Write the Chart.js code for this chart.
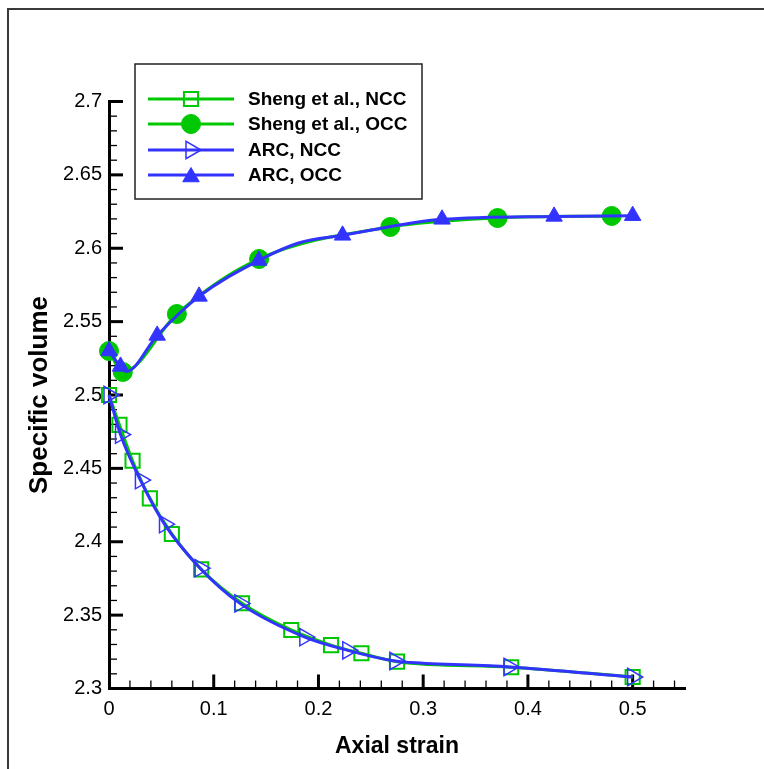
<!DOCTYPE html>
<html><head><meta charset="utf-8">
<script src="https://cdn.jsdelivr.net/npm/chart.js@4/dist/chart.umd.min.js"></script>
<style>
html,body{margin:0;padding:0;background:#fff;}
#wrap{position:relative;width:764px;height:769px;overflow:hidden;}
#frame{position:absolute;left:7px;top:8px;width:800px;height:800px;border-top:2px solid #3a3a3a;border-left:2px solid #3a3a3a;}
canvas{position:absolute;left:0;top:0;}
</style></head><body>
<div id="wrap"><div id="frame"></div><canvas id="c" width="764" height="769"></canvas></div>
<script>
// ---- data ----
const shengNccStrain = [0, 0.010, 0.0225, 0.039, 0.060, 0.088, 0.127, 0.174, 0.212, 0.241, 0.275, 0.384, 0.500];
const shengNccVolume = [2.500, 2.4796, 2.4552, 2.4296, 2.4053, 2.3812, 2.3581, 2.3399, 2.3296, 2.324, 2.3183, 2.3145, 2.3078];

const shengOccStrain = [0, 0.0132, 0.0648, 0.1433, 0.2686, 0.371, 0.480];
const shengOccVolume = [2.530, 2.5157, 2.5552, 2.5927, 2.6145, 2.6206, 2.622];

const arcNccStrain = [0, 0.011, 0.030, 0.053, 0.087, 0.125, 0.187, 0.228, 0.273, 0.288, 0.382, 0.500];
const arcNccVolume = [2.500, 2.473, 2.442, 2.412, 2.382, 2.358, 2.335, 2.326, 2.3187, 2.3177, 2.3147, 2.3078];
const arcNccMarked = [1, 1, 1, 1, 1, 1, 1, 1, 1, 0, 1, 1];

const arcOccStrain = [0, 0.011, 0.0165, 0.046, 0.086, 0.143, 0.181, 0.223, 0.318, 0.425, 0.500];
const arcOccVolume = [2.530, 2.5195, 2.516, 2.5406, 2.5672, 2.5917, 2.6036, 2.6088, 2.6197, 2.6217, 2.6222];
const arcOccMarked = [1, 1, 0, 1, 1, 1, 0, 1, 1, 1, 1];

const xTickValues = [0, 0.1, 0.2, 0.3, 0.4, 0.5];
const yTickValues = [2.3, 2.35, 2.4, 2.45, 2.5, 2.55, 2.6, 2.65, 2.7];
const legendLabels = ['Sheng et al., NCC', 'Sheng et al., OCC', 'ARC, NCC', 'ARC, OCC'];

const X_MIN = 0, X_MAX = 0.55, X_MINOR = 0.02;
const Y_MIN = 2.3, Y_MAX = 2.7, Y_MINOR = 0.01;

const GREEN = '#00c800';
const BLUE = '#3333ff';
const FONT = "'Liberation Sans', Arial, sans-serif";

const pts = (xs, ys) => xs.map((x, i) => ({x: x, y: ys[i]}));

// ---- marker drawing (legend) ----
function drawMarker(ctx, style, x, y, r, rot, fill, stroke, lw) {
  ctx.save();
  ctx.translate(x, y);
  ctx.rotate(rot * Math.PI / 180);
  ctx.beginPath();
  if (style === 'circle') {
    ctx.arc(0, 0, r, 0, Math.PI * 2);
  } else if (style === 'rect') {
    const s = r * Math.SQRT1_2;
    ctx.rect(-s, -s, 2 * s, 2 * s);
  } else if (style === 'triangle') {
    for (let k = 0; k < 3; k++) {
      const a = -Math.PI / 2 + k * 2 * Math.PI / 3;
      const px = Math.cos(a) * r, py = Math.sin(a) * r;
      if (k === 0) ctx.moveTo(px, py); else ctx.lineTo(px, py);
    }
    ctx.closePath();
  }
  if (fill) { ctx.fillStyle = fill; ctx.fill(); }
  if (stroke && lw) { ctx.strokeStyle = stroke; ctx.lineWidth = lw; ctx.stroke(); }
  ctx.restore();
}

const legendStyles = [
  {color: GREEN, style: 'rect', r: 10, rot: 0, fill: null, lw: 2},
  {color: GREEN, style: 'circle', r: 9.5, rot: 0, fill: GREEN, lw: 1},
  {color: BLUE, style: 'triangle', r: 10, rot: 90, fill: null, lw: 1.5},
  {color: BLUE, style: 'triangle', r: 9.5, rot: 0, fill: BLUE, lw: 1}
];

const legendPlugin = {
  id: 'boxLegend',
  afterDraw(chart) {
    const ctx = chart.ctx;
    ctx.save();
    ctx.fillStyle = '#fff';
    ctx.fillRect(135, 64, 287, 135);
    ctx.strokeStyle = '#222';
    ctx.lineWidth = 1.5;
    ctx.strokeRect(135, 64, 287, 135);
    const rows = [99, 124, 150, 175];
    legendLabels.forEach((lab, i) => {
      const st = legendStyles[i];
      const yy = rows[i];
      ctx.strokeStyle = st.color;
      ctx.lineWidth = 3;
      ctx.beginPath();
      ctx.moveTo(148, yy);
      ctx.lineTo(234, yy);
      ctx.stroke();
      drawMarker(ctx, st.style, 191, yy + (st.style === 'triangle' && st.rot === 0 ? 2 : 0), st.r, st.rot, st.fill, st.color, st.lw);
      ctx.fillStyle = '#000';
      ctx.font = 'bold 19px ' + FONT;
      ctx.textBaseline = 'middle';
      ctx.textAlign = 'left';
      ctx.fillText(lab, 248, yy + 1);
    });
    ctx.restore();
  }
};

const tickPlugin = {
  id: 'inTicks',
  beforeDatasetsDraw(chart) {
    const ctx = chart.ctx;
    const xs = chart.scales.x, ys = chart.scales.y;
    const ca = chart.chartArea;
    ctx.save();
    ctx.strokeStyle = '#000';
    const nx = Math.floor((X_MAX - X_MIN) / X_MINOR + 1e-6);
    for (let i = 1; i <= nx; i++) {
      const v = X_MIN + i * X_MINOR;
      const p = xs.getPixelForValue(v);
      const major = i % 5 === 0;
      ctx.lineWidth = major ? 3 : 1.3;
      ctx.beginPath();
      ctx.moveTo(p, ca.bottom);
      ctx.lineTo(p, ca.bottom - (major ? 14 : 8));
      ctx.stroke();
    }
    const ny = Math.floor((Y_MAX - Y_MIN) / Y_MINOR + 1e-6);
    for (let i = 1; i <= ny; i++) {
      const v = Y_MIN + i * Y_MINOR;
      const p = ys.getPixelForValue(v);
      const major = i % 5 === 0;
      ctx.lineWidth = major ? 3 : 1.3;
      ctx.beginPath();
      ctx.moveTo(ca.left, p);
      ctx.lineTo(ca.left + (major ? 14 : 8), p);
      ctx.stroke();
    }
    ctx.restore();
  }
};

const radiusFrom = (marks, r) => (c) => (marks[c.dataIndex] ? r : 0);

new Chart(document.getElementById('c'), {
  type: 'line',
  data: {
    datasets: [
      {
        label: 'ARC, OCC',
        data: pts(arcOccStrain, arcOccVolume),
        borderColor: BLUE, borderWidth: 3,
        cubicInterpolationMode: 'monotone',
        pointStyle: 'triangle',
        pointRadius: radiusFrom(arcOccMarked, 9.5),
        pointBackgroundColor: BLUE, pointBorderColor: BLUE, pointBorderWidth: 1,
        clip: false
      },
      {
        label: 'ARC, NCC',
        data: pts(arcNccStrain, arcNccVolume),
        borderColor: BLUE, borderWidth: 3,
        cubicInterpolationMode: 'monotone',
        pointStyle: 'triangle', pointRotation: 90,
        pointRadius: radiusFrom(arcNccMarked, 10),
        pointBackgroundColor: 'rgba(0,0,0,0)', pointBorderColor: BLUE, pointBorderWidth: 1.5,
        clip: false
      },
      {
        label: 'Sheng et al., OCC',
        data: pts(shengOccStrain, shengOccVolume),
        borderColor: GREEN, borderWidth: 3,
        cubicInterpolationMode: 'monotone',
        pointStyle: 'circle', pointRadius: 9.5,
        pointBackgroundColor: GREEN, pointBorderColor: GREEN, pointBorderWidth: 1,
        clip: false
      },
      {
        label: 'Sheng et al., NCC',
        data: pts(shengNccStrain, shengNccVolume),
        borderColor: GREEN, borderWidth: 3,
        cubicInterpolationMode: 'monotone',
        pointStyle: 'rect', pointRadius: 10,
        pointBackgroundColor: 'rgba(0,0,0,0)', pointBorderColor: GREEN, pointBorderWidth: 2,
        clip: false
      }
    ]
  },
  options: {
    responsive: false,
    animation: false,
    events: [],
    devicePixelRatio: 1,
    layout: {padding: {left: 0, top: 101.5, right: 79, bottom: 0}},
    plugins: {legend: {display: false}, tooltip: {enabled: false}},
    scales: {
      x: {
        type: 'linear', min: X_MIN, max: X_MAX,
        afterFit: (s) => { s.height = 80.5; },
        afterBuildTicks: (s) => { s.ticks = xTickValues.map(v => ({value: v})); },
        grid: {display: false, drawTicks: false},
        border: {display: true, color: '#000', width: 3},
        ticks: {
          padding: 9, color: '#000', maxRotation: 0, autoSkip: false,
          font: {family: FONT, size: 20},
          callback: (v) => String(Math.round(v * 10) / 10)
        },
        title: {display: true, text: 'Axial strain', color: '#000',
          font: {family: FONT, size: 23, weight: 'bold'}, padding: {top: 0, bottom: 9}}
      },
      y: {
        type: 'linear', min: Y_MIN, max: Y_MAX,
        afterFit: (s) => { s.width = 109; },
        afterBuildTicks: (s) => { s.ticks = yTickValues.map(v => ({value: v})); },
        grid: {display: false, drawTicks: false},
        border: {display: true, color: '#000', width: 3},
        ticks: {
          padding: 7, color: '#000', autoSkip: false,
          font: {family: FONT, size: 20},
          callback: (v) => String(Math.round(v * 100) / 100)
        },
        title: {display: true, text: 'Specific volume', color: '#000',
          font: {family: FONT, size: 26, weight: 'bold'}, padding: {top: 24, bottom: 0}}
      }
    }
  },
  plugins: [tickPlugin, legendPlugin]
});
</script>
</body></html>
